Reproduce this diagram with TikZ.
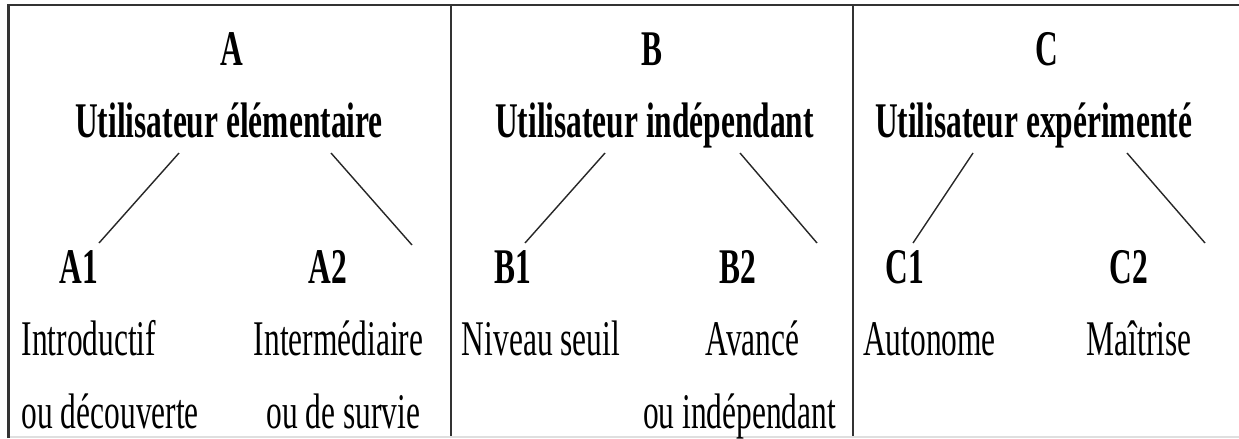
\documentclass[tikz,border=0pt]{standalone}
\usepackage{fontspec}
\setmainfont{Liberation Serif}[FakeStretch=0.63]
\usepackage{tikz}
\usetikzlibrary{positioning}

\begin{document}
\begin{tikzpicture}[every node/.style={font=\fontsize{14.2}{17}\selectfont, inner sep=0pt}]
    \tikzset{
      lvl/.style={anchor=base, font=\fontsize{14.2}{17}\selectfont\bfseries},
      sublvl/.style={anchor=base, font=\fontsize{14.2}{17}\selectfont\bfseries},
      desc/.style={anchor=base},
      branch/.style={draw=black!85, line width=0.4pt},
      frame/.style={draw=black!80, line width=0.6pt}}
    \useasboundingbox (0,0) rectangle (12.39,4.38);
    % table frame
    \draw[frame] (0.085,0) -- (0.085,4.33) -- (12.39,4.33);
    \draw[frame] (4.51,0) -- (4.51,4.33);
    \draw[frame] (8.53,0) -- (8.53,4.33);
    \draw[gray!25, line width=0.3pt] (0.1,0.01) -- (12.39,0.01);
    % A
    \node[lvl] (A) at (2.32,3.73) {A};
    \node[lvl] (catA) at (2.29,3.01) {Utilisateur élémentaire};
    \node[sublvl] (A1) at (0.79,1.55) {A1};
    \node[sublvl] (A2) at (3.28,1.55) {A2};
    \node[desc, anchor=base west] (A1a) at (0.21,0.83) {Introductif};
    \node[desc, anchor=base west] (A1b) at (0.21,0.10) {ou découverte};
    \node[desc] (A2a) at (3.385,0.83) {Intermédiaire};
    \node[desc] (A2b) at (3.435,0.10) {ou de survie};
    \coordinate (A-l) at (1.79,2.85);  \coordinate (A1-t) at (0.99,1.95);
    \coordinate (A-r) at (3.31,2.85);  \coordinate (A2-t) at (4.12,1.93);
    \draw[branch] (A-l) -- (A1-t);
    \draw[branch] (A-r) -- (A2-t);
    % B
    \node[lvl] (B) at (6.52,3.73) {B};
    \node[lvl] (catB) at (6.545,3.01) {Utilisateur indépendant};
    \node[sublvl] (B1) at (5.13,1.55) {B1};
    \node[sublvl] (B2) at (7.38,1.55) {B2};
    \node[desc] (B1a) at (5.41,0.83) {Niveau seuil};
    \node[desc] (B2a) at (7.525,0.83) {Avancé};
    \node[desc] (B2b) at (7.395,0.10) {ou indépendant};
    \coordinate (B-l) at (6.05,2.85);  \coordinate (B1-t) at (5.25,1.95);
    \coordinate (B-r) at (7.40,2.85);  \coordinate (B2-t) at (8.17,1.95);
    \draw[branch] (B-l) -- (B1-t);
    \draw[branch] (B-r) -- (B2-t);
    % C
    \node[lvl] (C) at (10.47,3.73) {C};
    \node[lvl] (catC) at (10.335,3.01) {Utilisateur expérimenté};
    \node[sublvl] (C1) at (9.05,1.55) {C1};
    \node[sublvl] (C2) at (11.29,1.55) {C2};
    \node[desc] (C1a) at (9.295,0.83) {Autonome};
    \node[desc] (C2a) at (11.39,0.83) {Maîtrise};
    \coordinate (C-l) at (9.73,2.85);  \coordinate (C1-t) at (9.13,1.95);
    \coordinate (C-r) at (11.27,2.85); \coordinate (C2-t) at (12.05,1.95);
    \draw[branch] (C-l) -- (C1-t);
    \draw[branch] (C-r) -- (C2-t);
  \end{tikzpicture}
\end{document}
